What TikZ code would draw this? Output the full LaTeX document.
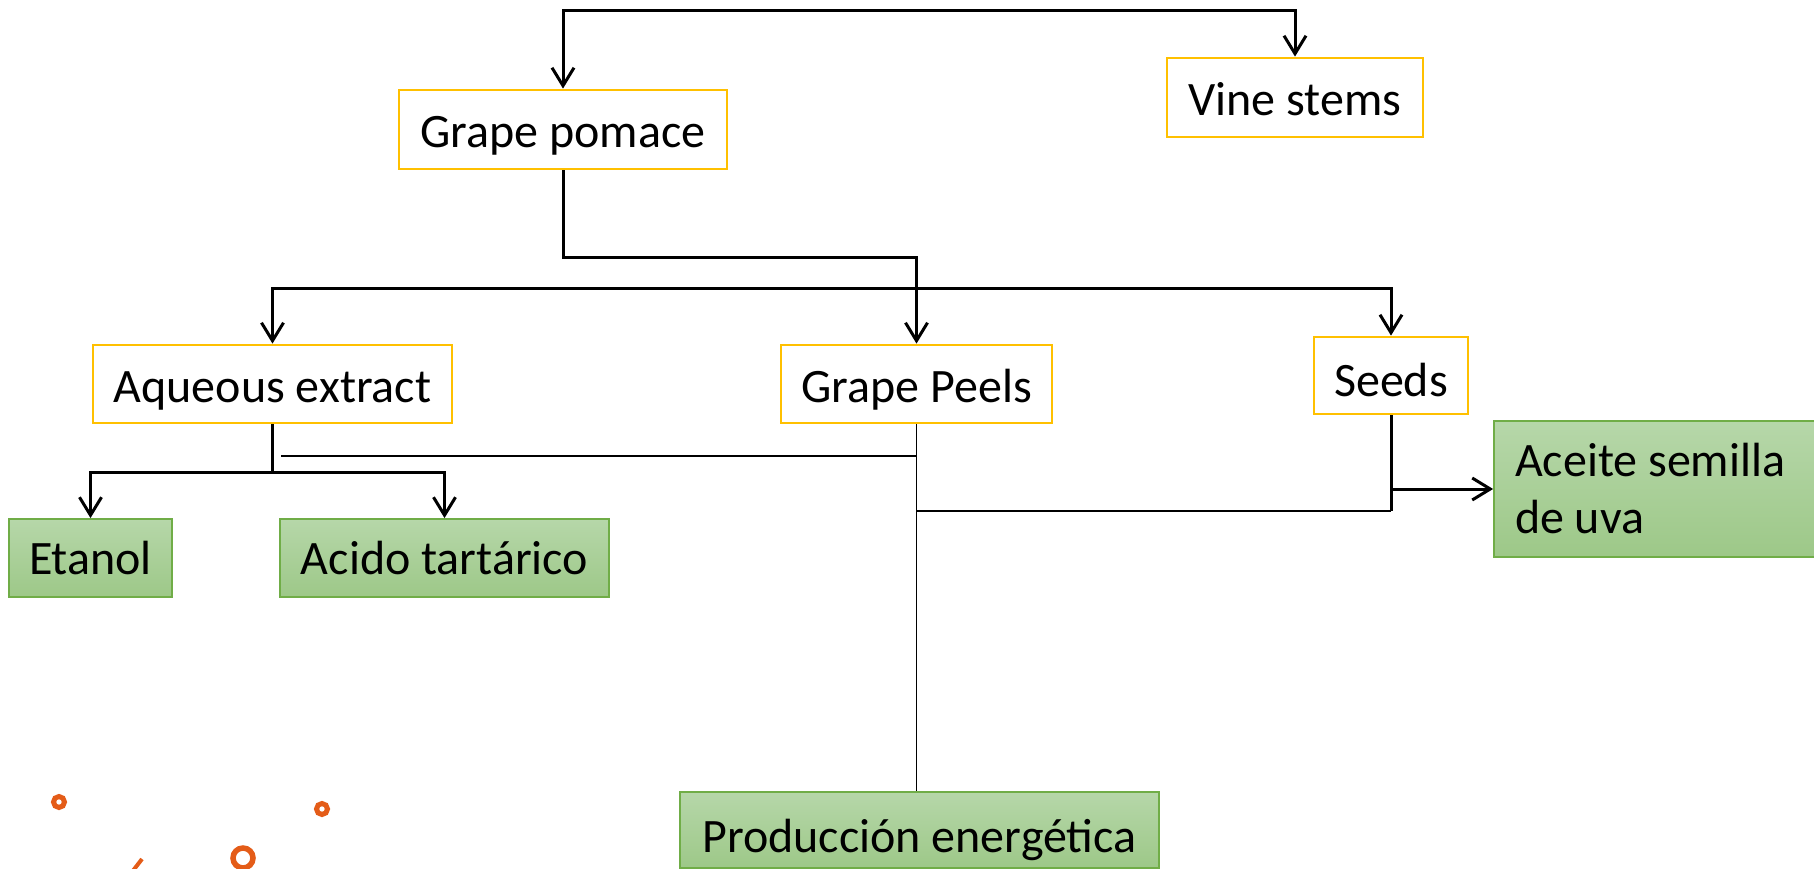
\documentclass[tikz,border=0pt]{standalone}
\usepackage{fontspec}
\setmainfont{Carlito}
\usetikzlibrary{arrows.meta}
\definecolor{yel}{HTML}{FFC000}
\definecolor{grn}{HTML}{70AD47}
\definecolor{gtop}{RGB}{182,215,169}
\definecolor{gbot}{RGB}{157,200,136}
\definecolor{org}{RGB}{228,92,24}
\tikzset{
  boxfont/.style={font=\fontsize{48}{57}\selectfont},
  ybox/.style={boxfont, draw=yel, line width=2.8pt, fill=white, inner sep=0pt, text height=37pt, text depth=0pt},
  gbox/.style={boxfont, draw=grn, line width=1.8pt, top color=gtop, bottom color=gbot, inner sep=0pt, text height=32pt, text depth=0pt},
  thickc/.style={line width=3pt, black},
  thinc/.style={line width=1.6pt, black},
  arr/.style={-{Straight Barb[length=18pt,width=22pt]}},
  arrs/.style={{Straight Barb[length=18pt,width=22pt]}-{Straight Barb[length=18pt,width=22pt]}},
  deco/.style={draw=org}
}
\begin{document}
\begin{tikzpicture}[x=1pt,y=-1pt]
\useasboundingbox (0,0) rectangle (1814,869);
\clip (0,0) rectangle (1814,869);
\fill[white] (0,0) rectangle (1814,869);

% nodes
\node[ybox, minimum width=328pt, minimum height=79pt] (gp) at (563,129.5) {Grape pomace};
\node[ybox, minimum width=256pt, minimum height=79pt] (vs) at (1295,97.5) {Vine stems};
\node[ybox, minimum width=359pt, minimum height=78pt] (aq) at (272.5,384) {Aqueous extract};
\node[ybox, minimum width=271pt, minimum height=78pt] (peels) at (916.5,384) {Grape Peels};
\node[ybox, minimum width=154pt, minimum height=77pt, text height=42pt] (seeds) at (1391,375.5) {Seeds};
\node[gbox, minimum width=163pt, minimum height=78pt] (etanol) at (90.5,558) {Etanol};
\node[gbox, minimum width=329pt, minimum height=78pt] (acido) at (444.5,558) {Acido tartárico};
\node[gbox, minimum width=479pt, minimum height=76pt, text height=44pt] (prod) at (919.5,830) {Producción energética};
\node[boxfont, draw=grn, line width=1.8pt, top color=gtop, bottom color=gbot,
      inner xsep=21pt, inner ysep=0pt, text width=294pt, align=flush left,
      minimum height=136pt] (aceite) at (1662,489) {Aceite semilla\\de uva};

% connectors
\draw[thickc, arrs] (gp.north) -- (gp.north |- 0,11) -| (vs.north);
\draw[thickc, arr] (gp.south) -- (gp.south |- 0,257) -| (peels.north);
\draw[thickc, arrs] (aq.north) -- (aq.north |- 0,288) -| (seeds.north);
\draw[thickc] (aq.south) -- (aq.south |- 0,472);
\draw[thickc, arr] (aq.south |- 0,472) -| (etanol.north);
\draw[thickc, arr] (aq.south |- 0,472) -| (acido.north);
\coordinate (thinstart) at (281,456);
\draw[thinc] (thinstart) -- (thinstart -| peels.south);
\draw[thinc] (peels.south) -- (peels.south |- prod.north);
\draw[thinc] (peels.south |- 0,511) -- (seeds.south |- 0,511);
\draw[thickc] (seeds.south) -- (seeds.south |- 0,511);
\draw[thickc, arr] (seeds.south |- aceite.west) -- (aceite.west);

% decoration
\draw[deco, line width=5pt] (59,802) circle (5.5pt);
\draw[deco, line width=5pt] (322,809) circle (5.5pt);
\draw[deco, line width=5.5pt] (243,858) circle (10pt);
\draw[deco, line width=4pt] (132,872) -- (142,859);
\end{tikzpicture}
\end{document}
